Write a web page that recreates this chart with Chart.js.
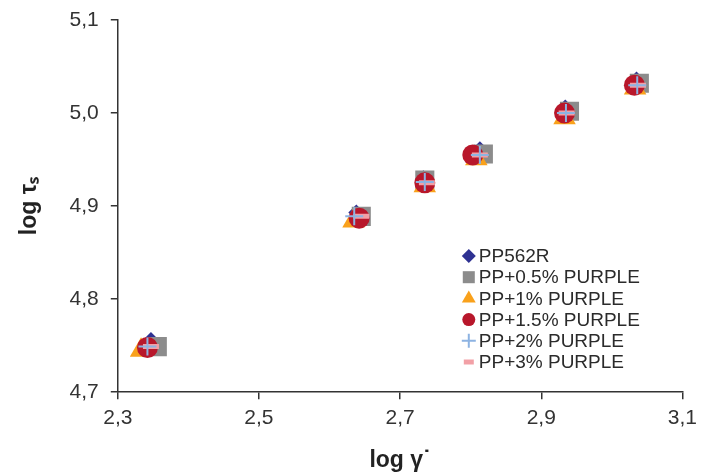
<!DOCTYPE html>
<html>
<head>
<meta charset="utf-8">
<script src="https://cdn.jsdelivr.net/npm/chart.js@4.4.0/dist/chart.umd.min.js"></script>
<style>
  html, body { margin: 0; padding: 0; background: #fff; }
  #wrap { width: 703px; height: 476px; }
</style>
</head>
<body>
<div id="wrap"><canvas id="flowChart"></canvas></div>
<script>
// tick values
const xTicks = [2.3, 2.5, 2.7, 2.9, 3.1];
const yTicks = [4.7, 4.8, 4.9, 5.0, 5.1];

const seriesNames = ['PP562R', 'PP+0.5% PURPLE', 'PP+1% PURPLE', 'PP+1.5% PURPLE', 'PP+2% PURPLE', 'PP+3% PURPLE'];

// log shear rate / log shear stress
const xPP562R = [2.347, 2.638, 2.733, 2.813, 2.934, 3.035];
const yPP562R = [4.756, 4.893, 4.930, 4.961, 5.006, 5.036];
const xPP05 = [2.356, 2.645, 2.735, 2.818, 2.940, 3.039];
const yPP05 = [4.749, 4.889, 4.928, 4.956, 5.002, 5.032];
const xPP1 = [2.333, 2.634, 2.735, 2.808, 2.933, 3.033];
const yPP1 = [4.745, 4.884, 4.922, 4.951, 4.995, 5.027];
const xPP15 = [2.342, 2.642, 2.735, 2.803, 2.933, 3.032];
const yPP15 = [4.748, 4.887, 4.925, 4.955, 5.000, 5.030];
const xPP2 = [2.342, 2.635, 2.735, 2.813, 2.935, 3.036];
const yPP2 = [4.749, 4.889, 4.926, 4.955, 5.000, 5.030];
const xPP3 = [2.347, 2.645, 2.738, 2.813, 2.936, 3.037];
const yPP3 = [4.749, 4.889, 4.925, 4.955, 5.000, 5.030];

const toPoints = (xs, ys) => xs.map((x, i) => ({ x: x, y: ys[i] }));
const comma = v => Number(v).toFixed(1).replace('.', ',');

Chart.defaults.font.family = "'Liberation Sans', Arial, sans-serif";
Chart.defaults.color = '#333';

// legend drawn inside the plot, lower right
const insideLegend = {
  id: 'insideLegend',
  afterDraw(chart) {
    const ctx = chart.ctx;
    const area = chart.chartArea;
    const mx = area.left + 351;
    const tx = area.left + 361;
    let y = area.top + 236;
    ctx.save();
    ctx.font = "19px 'Liberation Sans', Arial, sans-serif";
    ctx.textBaseline = 'middle';
    ctx.textAlign = 'left';
    chart.data.datasets.forEach(ds => {
      ctx.fillStyle = ds.backgroundColor;
      ctx.strokeStyle = ds.borderColor;
      ctx.lineWidth = ds.borderWidth;
      Chart.helpers.drawPoint(ctx, {
        pointStyle: ds.pointStyle,
        radius: ds.legendRadius,
        rotation: 0,
        borderWidth: ds.borderWidth
      }, mx, y);
      ctx.fillStyle = '#2b2b2b';
      ctx.fillText(ds.label, tx, y + 1);
      y += 21.2;
    });
    ctx.restore();
  }
};

new Chart(document.getElementById('flowChart'), {
  type: 'scatter',
  data: {
    datasets: [
      { label: seriesNames[0], data: toPoints(xPP562R, yPP562R), pointStyle: 'rectRot', pointRadius: 8,
        backgroundColor: '#2e3192', borderColor: '#2e3192', borderWidth: 0, legendRadius: 7, order: 6 },
      { label: seriesNames[1], data: toPoints(xPP05, yPP05), pointStyle: 'rect', pointRadius: 13.5,
        backgroundColor: '#8c8c8c', borderColor: '#8c8c8c', borderWidth: 0, legendRadius: 8.5, order: 5 },
      { label: seriesNames[2], data: toPoints(xPP1, yPP1), pointStyle: 'triangle', pointRadius: 13,
        backgroundColor: '#f9a11b', borderColor: '#f9a11b', borderWidth: 0, legendRadius: 8, order: 4 },
      { label: seriesNames[3], data: toPoints(xPP15, yPP15), pointStyle: 'circle', pointRadius: 10.5,
        backgroundColor: '#b8172b', borderColor: '#b8172b', borderWidth: 0, legendRadius: 6.5, order: 3 },
      { label: seriesNames[4], data: toPoints(xPP2, yPP2), pointStyle: 'cross', pointRadius: 9,
        backgroundColor: '#8db3e2', borderColor: '#8db3e2', borderWidth: 2, legendRadius: 7, order: 1 },
      { label: seriesNames[5], data: toPoints(xPP3, yPP3), pointStyle: 'line', pointRadius: 8,
        backgroundColor: '#f2a0a6', borderColor: '#f2a0a6', borderWidth: 5, legendRadius: 5, order: 2 }
    ]
  },
  options: {
    responsive: true,
    maintainAspectRatio: false,
    animation: false,
    layout: { padding: { left: 16, right: 18, top: 6, bottom: 2 } },
    scales: {
      x: {
        type: 'linear',
        min: 2.3,
        max: 3.1,
        afterBuildTicks: axis => { axis.ticks = xTicks.map(v => ({ value: v })); },
        ticks: { callback: comma, font: { size: 21 }, color: '#333', padding: 6, maxRotation: 0 },
        grid: { drawOnChartArea: false, drawTicks: true, tickLength: 7, color: '#333', lineWidth: 1.5 },
        border: { display: true, color: '#333', width: 1.5 },
        title: { display: true, text: 'log γ˙', font: { size: 23, weight: 'bold' }, color: '#222', padding: { top: 10, bottom: 0 } }
      },
      y: {
        type: 'linear',
        min: 4.7,
        max: 5.1,
        afterBuildTicks: axis => { axis.ticks = yTicks.map(v => ({ value: v })); },
        afterFit: axis => { axis.paddingTop = 20; },
        ticks: { callback: comma, font: { size: 21 }, color: '#333', padding: 12 },
        grid: { drawOnChartArea: false, drawTicks: true, tickLength: 7, color: '#333', lineWidth: 1.5 },
        border: { display: true, color: '#333', width: 1.5 },
        title: { display: true, text: 'log τₛ', font: { size: 23, weight: 'bold' }, color: '#222', padding: { top: 0, bottom: 14 } }
      }
    },
    plugins: {
      legend: { display: false },
      tooltip: { enabled: false }
    }
  },
  plugins: [insideLegend]
});
</script>
</body>
</html>
